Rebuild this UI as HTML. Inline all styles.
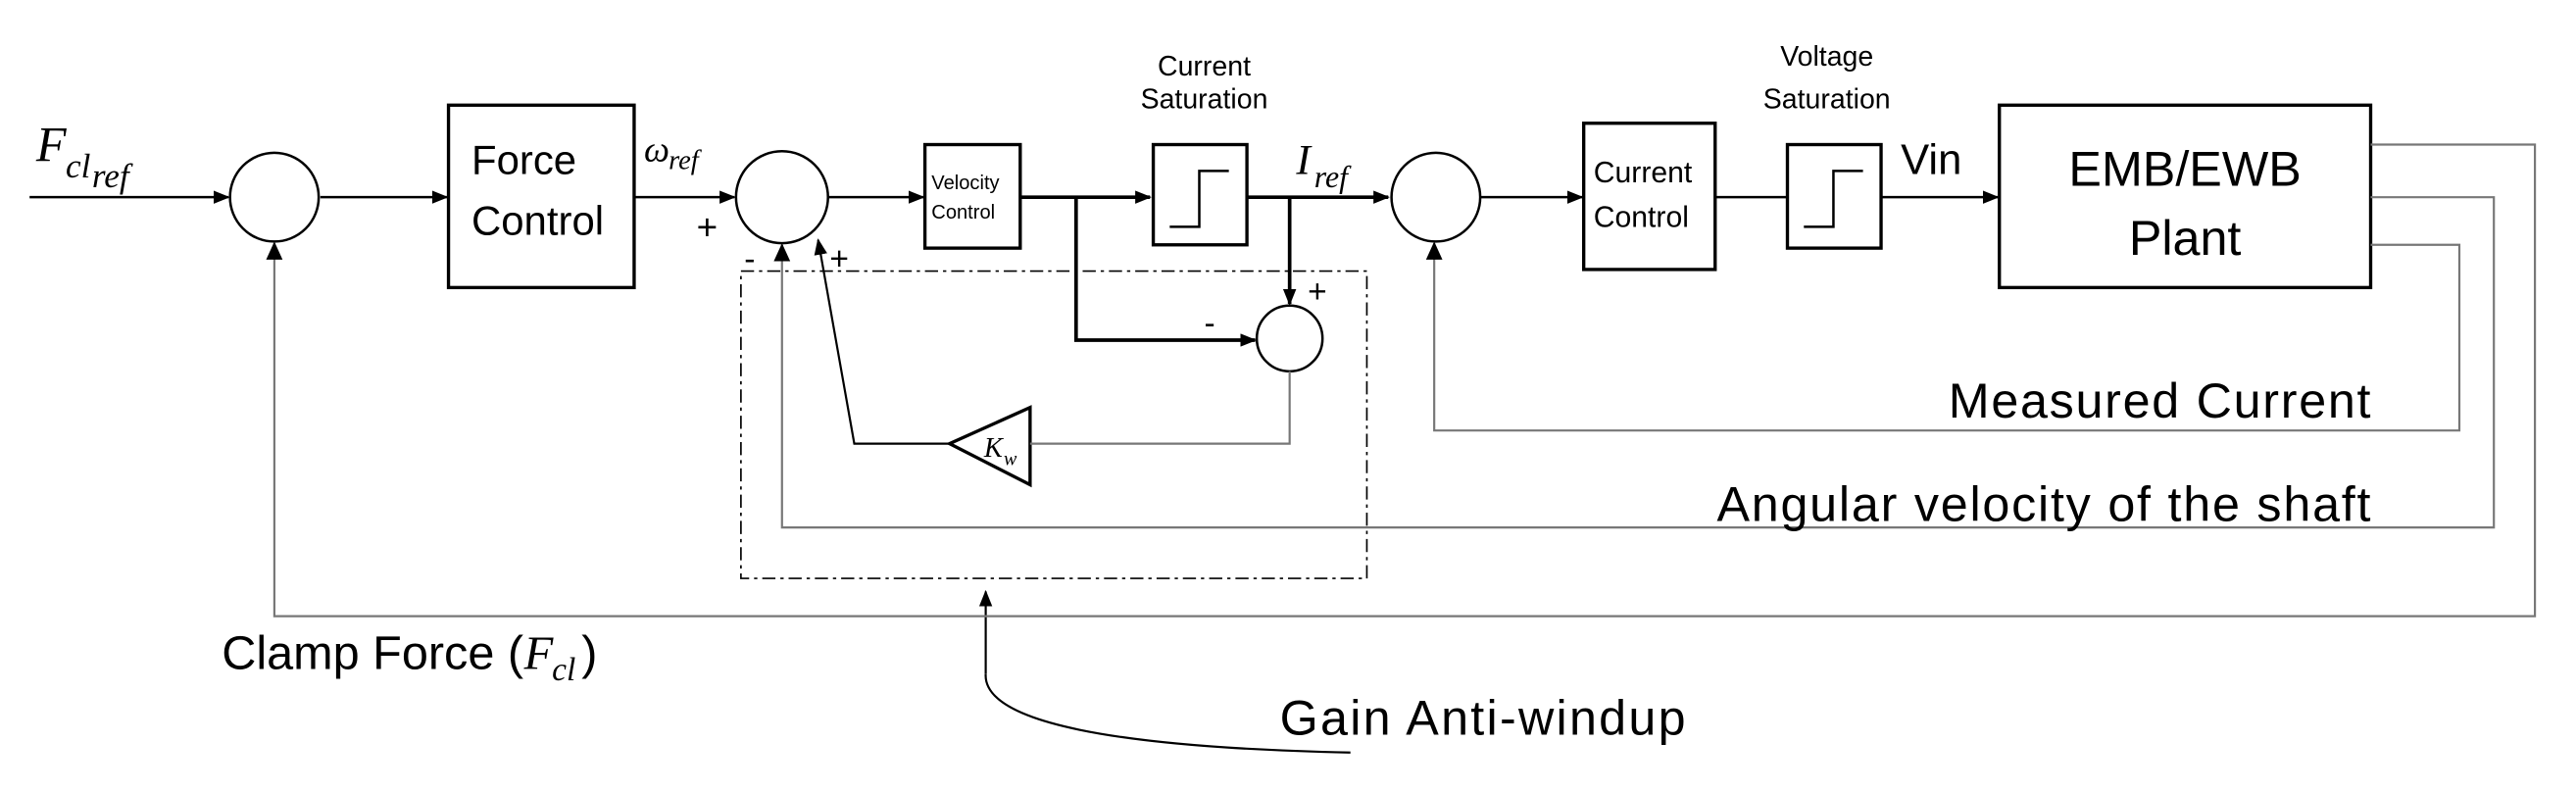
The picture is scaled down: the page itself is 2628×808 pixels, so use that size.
<!DOCTYPE html>
<html><head><meta charset="utf-8"><style>
html,body{margin:0;padding:0;background:#fff;width:2628px;height:808px;overflow:hidden}
svg{display:block}
text{font-family:"Liberation Sans",sans-serif;fill:#000}
.m{font-family:"Liberation Serif",serif;font-style:italic}
</style></head><body>
<svg width="2628" height="808" viewBox="0 0 1568 482" preserveAspectRatio="none" xmlns="http://www.w3.org/2000/svg">
<defs>
<marker id="a" markerWidth="10" markerHeight="8" refX="9" refY="4" orient="auto" markerUnits="userSpaceOnUse"><path d="M0,0 L10,4 L0,8 z" fill="#000"/></marker>
</defs>
<g fill="none" stroke="#000" stroke-width="1.5">
<line x1="18" y1="120" x2="139" y2="120" marker-end="url(#a)"/>
<circle cx="167" cy="120" r="27"/>
<line x1="195" y1="120" x2="272" y2="120" marker-end="url(#a)"/>
<rect x="273" y="64" width="113" height="111" stroke-width="2"/>
<line x1="386" y1="120" x2="447" y2="120" marker-end="url(#a)"/>
<circle cx="476" cy="120" r="28"/>
<line x1="504" y1="120" x2="562" y2="120" marker-end="url(#a)"/>
<rect x="563" y="88" width="58" height="63" stroke-width="2"/>
<line x1="621" y1="120" x2="700" y2="120" stroke-width="2.2" marker-end="url(#a)"/>
<rect x="702" y="88" width="57" height="61" stroke-width="2"/>
<path d="M712,138 H730 V104 H748" />
<line x1="759" y1="120" x2="845" y2="120" stroke-width="2.2" marker-end="url(#a)"/>
<line x1="785" y1="120" x2="785" y2="185" stroke-width="2.2" marker-end="url(#a)"/>
<path d="M655,120 V207 H764" stroke-width="2.2" marker-end="url(#a)"/>
<circle cx="785" cy="206" r="20"/>
<path d="M627,248 L627,295 L578,270 z" stroke-width="2"/>
<circle cx="874" cy="120" r="27"/>
<line x1="901" y1="120" x2="963" y2="120" marker-end="url(#a)"/>
<rect x="964" y="75" width="80" height="89" stroke-width="2"/>
<line x1="1044" y1="120" x2="1088" y2="120"/>
<rect x="1088" y="88" width="57" height="63" stroke-width="2"/>
<path d="M1098,138 H1116 V104 H1134" />
<line x1="1145" y1="120" x2="1216" y2="120" marker-end="url(#a)"/>
<rect x="1217" y="64" width="226" height="111" stroke-width="2"/>
<path d="M600,410 C598,440 680,455 822,458" stroke-width="1.3"/>
<line x1="600" y1="410" x2="600" y2="360" stroke-width="1.3" marker-end="url(#a)"/>
</g>
<g fill="none" stroke="#777" stroke-width="1.3">
<path d="M785,226 V270 H627"/>
<path d="M578,270 H520 L498,146" marker-end="url(#a)" stroke="#000"/>
<path d="M1443,88 H1543 V375 H167 V148" />
<path d="M1443,120 H1518 V321 H476 V149" />
<path d="M1443,149 H1497 V262 H873 V148" />
</g>
<g fill="#000">
<path d="M162,158 L172,158 L167,147 z"/>
<path d="M471,159 L481,159 L476,148 z"/>
<path d="M868,158 L878,158 L873,147 z"/>
</g>
<rect x="451" y="165" width="381" height="187" fill="none" stroke="#000" stroke-width="1" stroke-dasharray="8,3,2,3"/>
<text x="22" y="98" class="m" font-size="30">F</text><text x="40" y="108" class="m" font-size="21">cl</text><text x="56" y="114" class="m" font-size="21">ref</text>
<text x="287" y="106" font-size="25">Force</text>
<text x="287" y="143" font-size="25">Control</text>
<text x="392" y="98" class="m" font-size="22">ω</text><text x="407" y="103" class="m" font-size="17">ref</text>
<text x="424" y="146" font-size="22">+</text>
<text x="453" y="164" font-size="20">-</text>
<text x="505" y="164" font-size="20">+</text>
<text x="567" y="115" font-size="12">Velocity</text>
<text x="567" y="133" font-size="12">Control</text>
<text x="733" y="46" font-size="17" text-anchor="middle">Current</text>
<text x="733" y="66" font-size="17" text-anchor="middle">Saturation</text>
<text x="789" y="106" class="m" font-size="26">I</text><text x="800" y="114" class="m" font-size="19">ref</text>
<text x="796" y="184" font-size="20">+</text>
<text x="733" y="203" font-size="20">-</text>
<text x="599" y="278" class="m" font-size="17">K</text><text x="611" y="283" class="m" font-size="12">w</text>
<text x="970" y="111" font-size="18">Current</text>
<text x="970" y="138" font-size="18">Control</text>
<text x="1112" y="40" font-size="17" text-anchor="middle">Voltage</text>
<text x="1112" y="66" font-size="17" text-anchor="middle">Saturation</text>
<text x="1157" y="106" font-size="26">Vin</text>
<text x="1330" y="113" font-size="30" text-anchor="middle">EMB/EWB</text>
<text x="1330" y="155" font-size="30" text-anchor="middle">Plant</text>
<text x="1186" y="254" font-size="30" textLength="257">Measured Current</text>
<text x="1045" y="317" font-size="30" textLength="398">Angular velocity of the shaft</text>
<text x="135" y="407" font-size="29">Clamp Force (</text><text x="319" y="407" class="m" font-size="29">F</text><text x="336" y="414" class="m" font-size="20">cl</text><text x="354" y="407" font-size="29">)</text>
<text x="779" y="447" font-size="30" textLength="247">Gain Anti-windup</text>
</svg>
</body></html>
